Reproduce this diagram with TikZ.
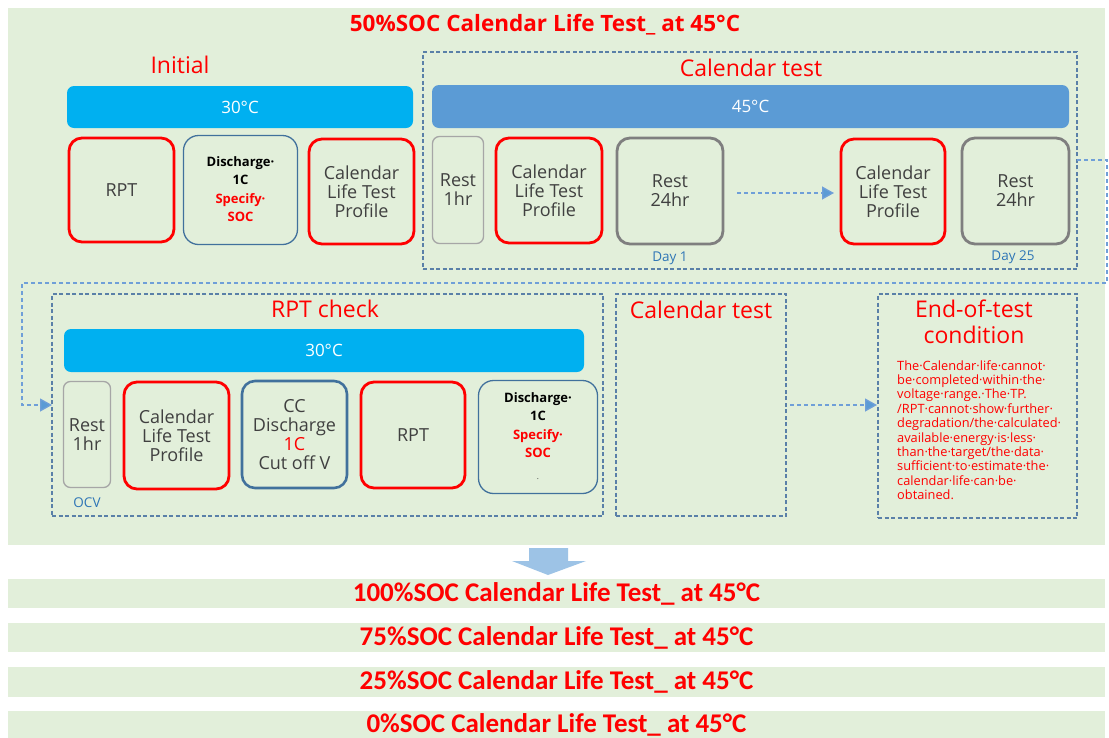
\documentclass[tikz,border=0pt]{standalone}
\usepackage{fontspec}
\setmainfont{Open Sans}
\newfontfamily\calfont{Carlito}
\usetikzlibrary{arrows.meta}
\definecolor{bggreen}{HTML}{E2EFDA}
\definecolor{boxtext}{HTML}{404040}
\definecolor{grayk}{HTML}{7F7F7F}
\definecolor{grayl}{HTML}{A6A6A6}
\definecolor{blueb}{HTML}{41719C}
\definecolor{cyanbar}{HTML}{00B0F0}
\definecolor{bluebar}{HTML}{5B9BD5}
\definecolor{dashc}{HTML}{5A80A8}
\definecolor{connc}{HTML}{6F9FD8}
\definecolor{daytext}{HTML}{2E75B6}
\definecolor{bigarrow}{HTML}{9DC3E6}
\tikzset{
  base/.style={inner sep=0pt, outer sep=0pt, align=center, text=boxtext, font=\fontsize{18}{19}\selectfont},
  redbox/.style={base, draw=red, line width=2.8pt, rounded corners=13pt},
  graythick/.style={base, draw=grayk, line width=2.8pt, rounded corners=13pt},
  graythin/.style={base, draw=grayl, line width=1.3pt, rounded corners=7pt},
  bluethin/.style={base, draw=blueb, line width=1.3pt, rounded corners=15pt},
  bluethick/.style={base, draw=blueb, line width=2.6pt, rounded corners=13pt},
  tempbar/.style={inner sep=0pt, outer sep=0pt, rounded corners=7pt, text=white, font=\fontsize{17}{17}\selectfont},
  dashbox/.style={draw=dashc, dash pattern=on 4pt off 2.5pt, line width=1.2pt, inner sep=0pt, outer sep=0pt},
  sectitle/.style={text=red, inner sep=0pt, align=center, font=\fontsize{23}{26}\selectfont},
  conn/.style={draw=connc, dash pattern=on 4pt off 3pt, line width=1.3pt},
  dasharrow/.style={conn, -{Triangle[length=12pt,width=13pt,fill=bluebar]}},
  daylabel/.style={text=daytext, inner sep=0pt, font=\fontsize{13.5}{14}\selectfont},
  botbar/.style={fill=bggreen, inner sep=0pt, outer sep=0pt, minimum width=1097pt, text=red, font=\calfont\bfseries\fontsize{27}{27}\selectfont}
}
\begin{document}
\begin{tikzpicture}[x=1pt,y=-1pt]
\fill[white] (0,0) rectangle (1109,737);
\useasboundingbox (0,0) rectangle (1109,737);
% main background
\fill[bggreen] (8,8) rectangle (1105,545);
\node[text=red, inner sep=0pt, font=\bfseries\fontsize{22.5}{24}\selectfont] (maintitle) at (545,25) {50\%SOC Calendar Life Test\_ at 45°C};

% Initial
\node[sectitle] (tinit) at (180,65) {Initial};
\node[tempbar, fill=cyanbar, minimum width=346pt, minimum height=42pt] (bar30a) at (240,107) {30°C};
\node[redbox, minimum width=105pt, minimum height=104pt] (rpt1) at (121.5,190) {RPT};
\node[bluethin, minimum width=114pt, minimum height=109pt] (dis1) at (240.5,190) {\begin{tabular}{@{}c@{}}\bfseries\fontsize{13}{17}\selectfont\color{black}Discharge·\\[-0.5pt]\bfseries\fontsize{13}{17}\selectfont\color{black}1C\\[-0.5pt]\bfseries\fontsize{13}{17}\selectfont\color{red}Specify·\\[-0.5pt]\bfseries\fontsize{13}{17}\selectfont\color{red}SOC\end{tabular}};
\node[redbox, minimum width=105pt, minimum height=105pt] (clp1) at (361.5,191.5) {Calendar\\Life Test\\Profile};

% Calendar test
\node[dashbox, minimum width=654pt, minimum height=217pt] (calbox) at (750,160.5) {};
\node[sectitle] (tcal) at (751,68) {Calendar test};
\node[tempbar, fill=bluebar, minimum width=637pt, minimum height=43pt] (bar45) at (750.5,106.5) {45°C};
\node[graythin, minimum width=51pt, minimum height=107pt] (rest1) at (458,190) {Rest\\1hr};
\node[redbox, minimum width=106pt, minimum height=105pt] (clp2) at (549,190.5) {Calendar\\Life Test\\Profile};
\node[graythick, minimum width=106pt, minimum height=106pt] (r24a) at (670,191) {Rest\\24hr};
\node[redbox, minimum width=104pt, minimum height=105pt] (clp3) at (893,191.5) {Calendar\\Life Test\\Profile};
\node[graythick, minimum width=107pt, minimum height=106pt] (r24b) at (1015.5,191) {Rest\\24hr};
\node[daylabel] (day1) at (670,258) {Day 1};
\node[daylabel] (day25) at (1013,257) {Day 25};
\draw[dasharrow, shorten <=14pt, shorten >=7pt] ([yshift=-2pt]r24a.east) -- ([yshift=-2pt]clp3.west |- r24a.east);

% loop connector
\coordinate (lp1) at (1107,160);
\coordinate (lp2) at (1107,283);
\coordinate (lp3) at (22,283);
\coordinate (lp4) at (22,405);

% RPT check
\node[dashbox, minimum width=551pt, minimum height=222pt] (rptbox) at (327.5,405) {};
\node[sectitle] (trpt) at (325,309) {RPT check};
\node[tempbar, fill=cyanbar, minimum width=520pt, minimum height=43pt] (bar30b) at (324,350.5) {30°C};
\node[graythin, minimum width=47pt, minimum height=106pt] (rest3) at (87,434.5) {Rest\\1hr};
\node[redbox, minimum width=105pt, minimum height=107pt] (clp4) at (176.5,435.5) {Calendar\\Life Test\\Profile};
\node[bluethick, minimum width=105pt, minimum height=107pt] (ccd) at (294.5,434.5) {CC\\Discharge\\\textcolor{red}{1C}\\Cut off V};
\node[redbox, minimum width=104pt, minimum height=106pt] (rpt2) at (413,435) {RPT};
\node[bluethin, minimum width=119pt, minimum height=113pt] (dis2) at (538,437) {\begin{tabular}{@{}c@{}}\bfseries\fontsize{13}{17}\selectfont\color{black}Discharge·\\[-0.5pt]\bfseries\fontsize{13}{17}\selectfont\color{black}1C\\[-0.5pt]\bfseries\fontsize{13}{17}\selectfont\color{red}Specify·\\[-0.5pt]\bfseries\fontsize{13}{17}\selectfont\color{red}SOC\\[3pt]\fontsize{8}{8}\selectfont\color{boxtext}.\end{tabular}};
\node[daylabel] (ocv) at (87,503) {OCV};

\draw[conn, -{Triangle[length=12pt,width=13pt,fill=bluebar]}] (calbox.east |- lp1) -- (lp1) -- (lp2) -- (lp3) -- (lp4) -- (rptbox.west |- lp4);

% Calendar test 2
\node[dashbox, minimum width=170pt, minimum height=222pt] (cal2) at (701,405) {};
\node[sectitle] (tcal2) at (701,310) {Calendar test};

% End-of-test
\node[dashbox, minimum width=199pt, minimum height=224pt] (endbox) at (977.5,406) {};
\node[sectitle] (tend) at (974,322) {End-of-test\\condition};
\node[anchor=north west, inner sep=0pt, align=left, text=red, font=\fontsize{12.8}{14.4}\selectfont] (endtxt) at (897,360) {The·Calendar·life·cannot·\\be·completed·within·the·\\voltage·range.·The·TP.\\/RPT·cannot·show·further·\\degradation/the·calculated·\\available·energy·is·less·\\than·the·target/the·data·\\sufficient·to·estimate·the·\\calendar·life·can·be·\\obtained.};
\draw[dasharrow, shorten <=4pt, shorten >=1pt] (cal2.east) -- (endbox.west |- cal2.east);

% big down arrow
\fill[bigarrow] (529,548) -- (568,548) -- (568,561) -- (586,561) -- (548,575) -- (512,561) -- (529,561) -- cycle;

% bottom bars
\node[botbar, minimum height=29pt] (bb1) at (556.5,593.5) {100\%SOC Calendar Life Test\_ at 45°C};
\node[botbar, minimum height=29pt] (bb2) at (556.5,637.5) {75\%SOC Calendar Life Test\_ at 45°C};
\node[botbar, minimum height=30pt] (bb3) at (556.5,682) {25\%SOC Calendar Life Test\_ at 45°C};
\node[botbar, minimum height=27pt] (bb4) at (556.5,724.5) {0\%SOC Calendar Life Test\_ at 45°C};
\end{tikzpicture}
\end{document}
